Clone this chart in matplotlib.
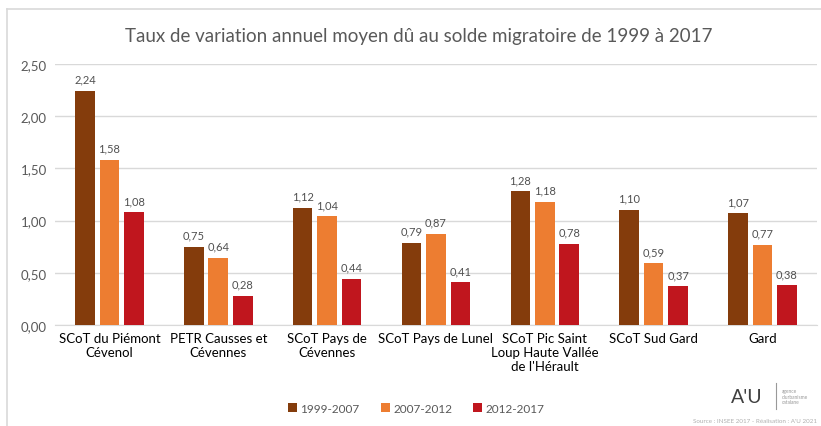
import matplotlib.pyplot as plt
import numpy as np

plt.rcParams['font.family'] = ['Lato', 'DejaVu Sans']

categories = [
    "SCoT du Piémont\nCévenol",
    "PETR Causses et\nCévennes",
    "SCoT Pays de\nCévennes",
    "SCoT Pays de Lunel",
    "SCoT Pic Saint\nLoup Haute Vallée\nde l'Hérault",
    "SCoT Sud Gard",
    "Gard",
]
periods = ["1999-2007", "2007-2012", "2012-2017"]
v_1999_2007 = [2.24, 0.75, 1.12, 0.79, 1.28, 1.10, 1.07]
v_2007_2012 = [1.58, 0.64, 1.04, 0.87, 1.18, 0.59, 0.77]
v_2012_2017 = [1.08, 0.28, 0.44, 0.41, 0.78, 0.37, 0.38]
colors = ["#843C0C", "#ED7D31", "#C0161E"]

fig = plt.figure(figsize=(8.21, 4.27), dpi=100)
ax = fig.add_axes([0.067, 0.2365, 0.928, 0.6115])

x = np.arange(len(categories))
w = 0.18
step = 0.225
for i, (vals, lab, c) in enumerate(zip([v_1999_2007, v_2007_2012, v_2012_2017], periods, colors)):
    pos = x + (i - 1) * step
    bars = ax.bar(pos, vals, width=w, color=c, label=lab, zorder=3)
    for b, v in zip(bars, vals):
        ax.text(b.get_x() + b.get_width() / 2, v + 0.06, f"{v:.2f}".replace(".", ","),
                ha="center", va="bottom", fontsize=8, color="#505050")

ax.set_ylim(0, 2.5)
ax.set_xlim(-0.5, len(categories) - 0.5)
ax.set_yticks(np.arange(0, 2.51, 0.5))
ax.set_yticklabels([f"{t:.2f}".replace(".", ",") for t in np.arange(0, 2.51, 0.5)],
                   fontsize=9.5, color="#595959")
ax.yaxis.grid(True, color="#d9d9d9", linewidth=1, zorder=0)
ax.set_xticks(x)
ax.set_xticklabels(categories, fontsize=9.5, color="#000000", va="top")
ax.tick_params(axis="both", length=0, pad=6)
ax.tick_params(axis="x", pad=5)
for s in ["top", "right", "left"]:
    ax.spines[s].set_visible(False)
ax.spines["bottom"].set_color("#d9d9d9")

fig.text(0.51, 0.915, "Taux de variation annuel moyen dû au solde migratoire de 1999 à 2017",
         ha="center", va="center", fontsize=13.5, color="#595959")

fig.legend(loc="center", bbox_to_anchor=(0.507, 0.042), ncol=3, frameon=False,
           fontsize=8.5, handlelength=0.75, handleheight=0.75, handletextpad=0.3,
           columnspacing=1.8, labelcolor="#595959")

# frame around the chart
fig.add_artist(plt.Line2D([7 / 821, 1], [1 - 10 / 427, 1 - 10 / 427], color="#d9d9d9", lw=1.2))
fig.add_artist(plt.Line2D([7 / 821, 7 / 821], [0, 1 - 10 / 427], color="#d9d9d9", lw=1.2))

# logo and source
fig.text(0.91, 0.068, "A'U", ha="center", va="center", fontsize=14, color="#404040")
fig.add_artist(plt.Line2D([0.945, 0.945], [0.04, 0.1], color="#999999", lw=0.8))
fig.text(0.952, 0.07, "agence\nd'urbanisme\ncatalane", fontsize=3.5, color="#999999", va="center")
fig.text(0.995, 0.012, "Source : INSEE 2017 - Réalisation : A'U 2021", ha="right",
         va="center", fontsize=4.5, color="#b0b0b0")

fig.savefig("out.png", dpi=100)
